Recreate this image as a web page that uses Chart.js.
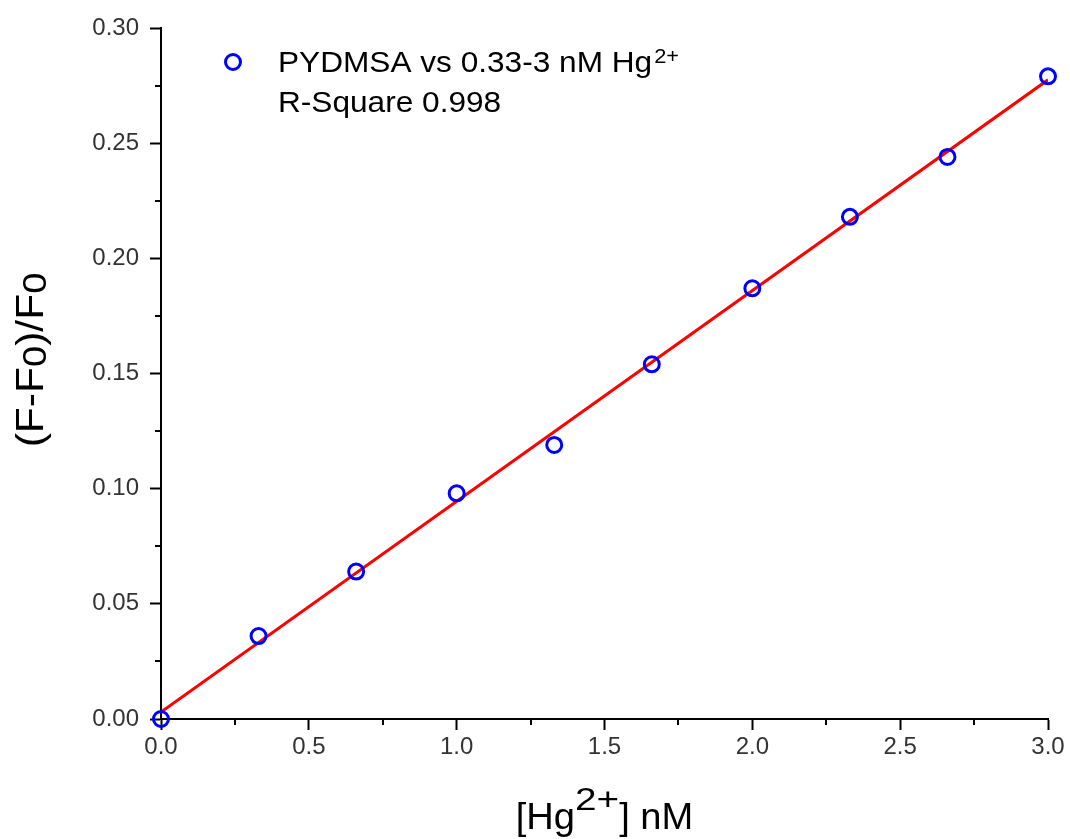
<!DOCTYPE html>
<html>
<head>
<meta charset="utf-8">
<script src="https://cdn.jsdelivr.net/npm/chart.js@4"></script>
<style>
  html, body { margin: 0; padding: 0; background: #fff; }
  #wrap { width: 1070px; height: 839px; }
</style>
</head>
<body>
<div id="wrap"><canvas id="myChart" width="1070" height="839"></canvas></div>
<script>
// data
const concentration = [0, 0.33, 0.66, 1.0, 1.33, 1.66, 2.0, 2.33, 2.66, 3.0];
const response = [0.000, 0.036, 0.064, 0.098, 0.119, 0.154, 0.187, 0.218, 0.244, 0.279];
// linear fit, end points
const fitX = [0, 3];
const fitY = [0.003, 0.2775];

const xTicks = [0, 0.5, 1.0, 1.5, 2.0, 2.5, 3.0];
const yTicks = [0, 0.05, 0.10, 0.15, 0.20, 0.25, 0.30];

const legendLines = ['PYDMSA vs 0.33-3 nM Hg', 'R-Square 0.998'];
const legendSup = '2+';
const xTitleParts = [['[Hg', 'n'], ['2+', 'sup'], ['] nM', 'n']];
const yTitleParts = [['(F-F', 'n'], ['0', 'sub'], [')/F', 'n'], ['0', 'sub']];

const FONT = '"Liberation Sans", Arial, sans-serif';

// st: {size, sub, sup, sx, supSx, supRise, subDrop}
function drawParts(ctx, parts, st) {
    const fontOf = k => (k === 'n' ? st.size : (k === 'sup' ? st.sup : st.sub)) + 'px ' + FONT;
    const sxOf = k => (k === 'sup' ? st.supSx : st.sx);
    let w = 0;
    parts.forEach(p => {
        ctx.font = fontOf(p[1]);
        w += ctx.measureText(p[0]).width * sxOf(p[1]);
    });
    let x = -w / 2;
    parts.forEach(p => {
        let dy = 0;
        if (p[1] === 'sup') dy = -st.supRise;
        if (p[1] === 'sub') dy = st.subDrop;
        ctx.font = fontOf(p[1]);
        const k = sxOf(p[1]);
        ctx.save();
        ctx.translate(x, dy);
        ctx.scale(k, 1);
        ctx.fillText(p[0], 0, 0);
        ctx.restore();
        x += ctx.measureText(p[0]).width * k;
    });
}

const extras = {
    id: 'extras',
    afterDraw(chart) {
        const ctx = chart.ctx;
        const xs = chart.scales.x, ys = chart.scales.y;
        const area = chart.chartArea;
        ctx.save();
        // minor ticks
        ctx.strokeStyle = '#000';
        ctx.lineWidth = 2;
        ctx.beginPath();
        for (let i = 0; i < xTicks.length - 1; i++) {
            const px = Math.round(xs.getPixelForValue((xTicks[i] + xTicks[i + 1]) / 2));
            ctx.moveTo(px, area.bottom);
            ctx.lineTo(px, area.bottom + 6);
        }
        for (let i = 0; i < yTicks.length - 1; i++) {
            const py = Math.round(ys.getPixelForValue((yTicks[i] + yTicks[i + 1]) / 2));
            ctx.moveTo(area.left, py);
            ctx.lineTo(area.left - 6, py);
        }
        ctx.stroke();

        // axis titles
        ctx.fillStyle = '#000';
        ctx.textAlign = 'left';
        ctx.textBaseline = 'alphabetic';
        ctx.save();
        ctx.translate((area.left + area.right) / 2, 829);
        drawParts(ctx, xTitleParts, {size: 37, sub: 30, sup: 31, sx: 1.03, supSx: 1.25, supRise: 19, subDrop: 0});
        ctx.restore();
        ctx.save();
        ctx.translate(43, 360);
        ctx.rotate(-Math.PI / 2);
        drawParts(ctx, yTitleParts, {size: 38, sub: 34, sup: 30, sx: 1.12, supSx: 1.12, supRise: 0, subDrop: 3});
        ctx.restore();

        // legend
        const lx = 233, ly = 62;
        ctx.beginPath();
        ctx.arc(lx, ly, 7.5, 0, Math.PI * 2);
        ctx.strokeStyle = '#0000ff';
        ctx.lineWidth = 3;
        ctx.stroke();
        ctx.fillStyle = '#000';
        ctx.font = '29px ' + FONT;
        const w0 = ctx.measureText(legendLines[0]).width * 1.09;
        ctx.save();
        ctx.translate(278, 72);
        ctx.scale(1.09, 1);
        ctx.fillText(legendLines[0], 0, 0);
        ctx.fillText(legendLines[1], 0, 40);
        ctx.restore();
        ctx.save();
        ctx.font = '20px ' + FONT;
        ctx.translate(278 + w0 + 2, 63);
        ctx.scale(1.09, 1);
        ctx.fillText(legendSup, 0, 0);
        ctx.restore();
        ctx.restore();
    }
};

const data = {
    datasets: [{
        label: 'Linear fit',
        type: 'line',
        data: fitX.map((x, i) => ({x: x, y: fitY[i]})),
        borderColor: '#ff0000',
        borderWidth: 3,
        pointRadius: 0,
        fill: false,
        order: 2
    }, {
        label: 'PYDMSA vs 0.33-3 nM Hg2+',
        type: 'scatter',
        data: concentration.map((x, i) => ({x: x, y: response[i]})),
        borderColor: '#0000ff',
        backgroundColor: 'rgba(0,0,0,0)',
        borderWidth: 3,
        pointRadius: 7.5,
        pointHoverRadius: 7.5,
        clip: false,
        order: 1
    }]
};

const config = {
    type: 'scatter',
    data,
    options: {
        responsive: false,
        animation: false,
        events: [],
        layout: { padding: { left: 0, right: 22, top: 28, bottom: 0 } },
        plugins: {
            legend: { display: false },
            tooltip: { enabled: false }
        },
        scales: {
            x: {
                type: 'linear',
                min: 0,
                max: 3,
                afterBuildTicks: s => { s.ticks = xTicks.map(v => ({value: v})); },
                afterFit: s => { s.height = 120; },
                ticks: {
                    color: '#333',
                    font: { family: FONT, size: 24 },
                    padding: 3,
                    maxRotation: 0,
                    callback: v => v.toFixed(1)
                },
                grid: {
                    drawOnChartArea: false,
                    drawTicks: true,
                    tickLength: 11,
                    tickWidth: 2,
                    tickColor: '#000'
                },
                border: { display: true, color: '#000', width: 2 }
            },
            y: {
                type: 'linear',
                min: 0,
                max: 0.30,
                afterBuildTicks: s => { s.ticks = yTicks.map(v => ({value: v})); },
                afterFit: s => { s.width = 161; },
                ticks: {
                    color: '#333',
                    font: { family: FONT, size: 24 },
                    padding: 11,
                    callback: v => v.toFixed(2)
                },
                grid: {
                    drawOnChartArea: false,
                    drawTicks: true,
                    tickLength: 11,
                    tickWidth: 2,
                    tickColor: '#000'
                },
                border: { display: true, color: '#000', width: 2 }
            }
        }
    },
    plugins: [extras]
};

const myChart = new Chart(document.getElementById('myChart'), config);
</script>
</body>
</html>
